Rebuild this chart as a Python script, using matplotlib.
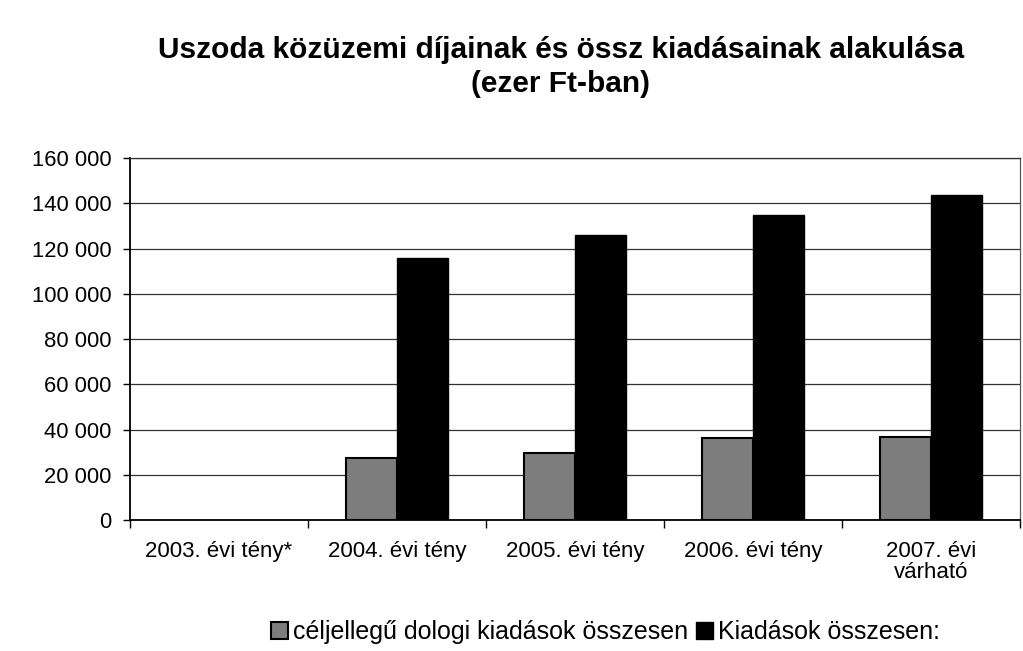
import numpy as np
import matplotlib
matplotlib.use('Agg')
import matplotlib.pyplot as plt

plt.rcParams['font.family'] = ['Liberation Sans', 'DejaVu Sans']

categories = ['2003. évi tény*', '2004. évi tény', '2005. évi tény', '2006. évi tény', '2007. évi\nvárható']
celjellegu = [np.nan, 27500, 29700, 36300, 36800]
kiadasok = [np.nan, 115800, 126000, 134800, 143700]
series_names = ['céljellegű dologi kiadások összesen', 'Kiadások összesen:']
yticks = list(range(0, 160001, 20000))
ytick_labels = ['0', '20 000', '40 000', '60 000', '80 000', '100 000', '120 000', '140 000', '160 000']

fig = plt.figure(figsize=(10.23, 6.51), dpi=100)
ax = fig.add_axes([0.127, 0.2012, 0.870, 0.556])

x = np.arange(len(categories))
w = 0.285
ax.bar(x - w / 2, celjellegu, w, color='#7d7d7d', edgecolor='black', linewidth=1.5,
       label=series_names[0], zorder=3)
ax.bar(x + w / 2, kiadasok, w, color='black', edgecolor='black', linewidth=1,
       label=series_names[1], zorder=3)

ax.set_xlim(-0.5, len(categories) - 0.5)
ax.set_ylim(0, 160000)
ax.set_yticks(yticks)
ax.set_yticklabels(ytick_labels, fontsize=15.8)
ax.set_xticks(x)
ax.set_xticklabels(categories, fontsize=16, linespacing=1.0)
ax.set_xticks(np.arange(-0.5, len(categories)), minor=True)
ax.tick_params(axis='x', which='major', length=0, pad=15)
ax.tick_params(axis='x', which='minor', length=6, width=1, direction='out')
ax.tick_params(axis='y', length=5, width=1, direction='out', pad=8)

ax.grid(axis='y', color='#333333', linewidth=0.9, zorder=0)
for side in ['left', 'bottom']:
    ax.spines[side].set_color('black')
    ax.spines[side].set_linewidth(1.3)
ax.spines['top'].set_color('#333333')
ax.spines['top'].set_linewidth(0.9)
ax.spines['right'].set_color('#555555')
ax.spines['right'].set_linewidth(0.9)

fig.text(0.548, 0.945, 'Uszoda közüzemi díjainak és össz kiadásainak alakulása\n(ezer Ft-ban)',
         ha='center', va='top', fontsize=21.5, fontweight='bold', linespacing=1.28)

fig.legend(loc='center', bbox_to_anchor=(0.592, 0.029), ncol=2, frameon=False, fontsize=18,
           handlelength=0.7, handleheight=0.7, handletextpad=0.2, columnspacing=0.3)

fig.savefig('out.png', dpi=100, facecolor='white')
